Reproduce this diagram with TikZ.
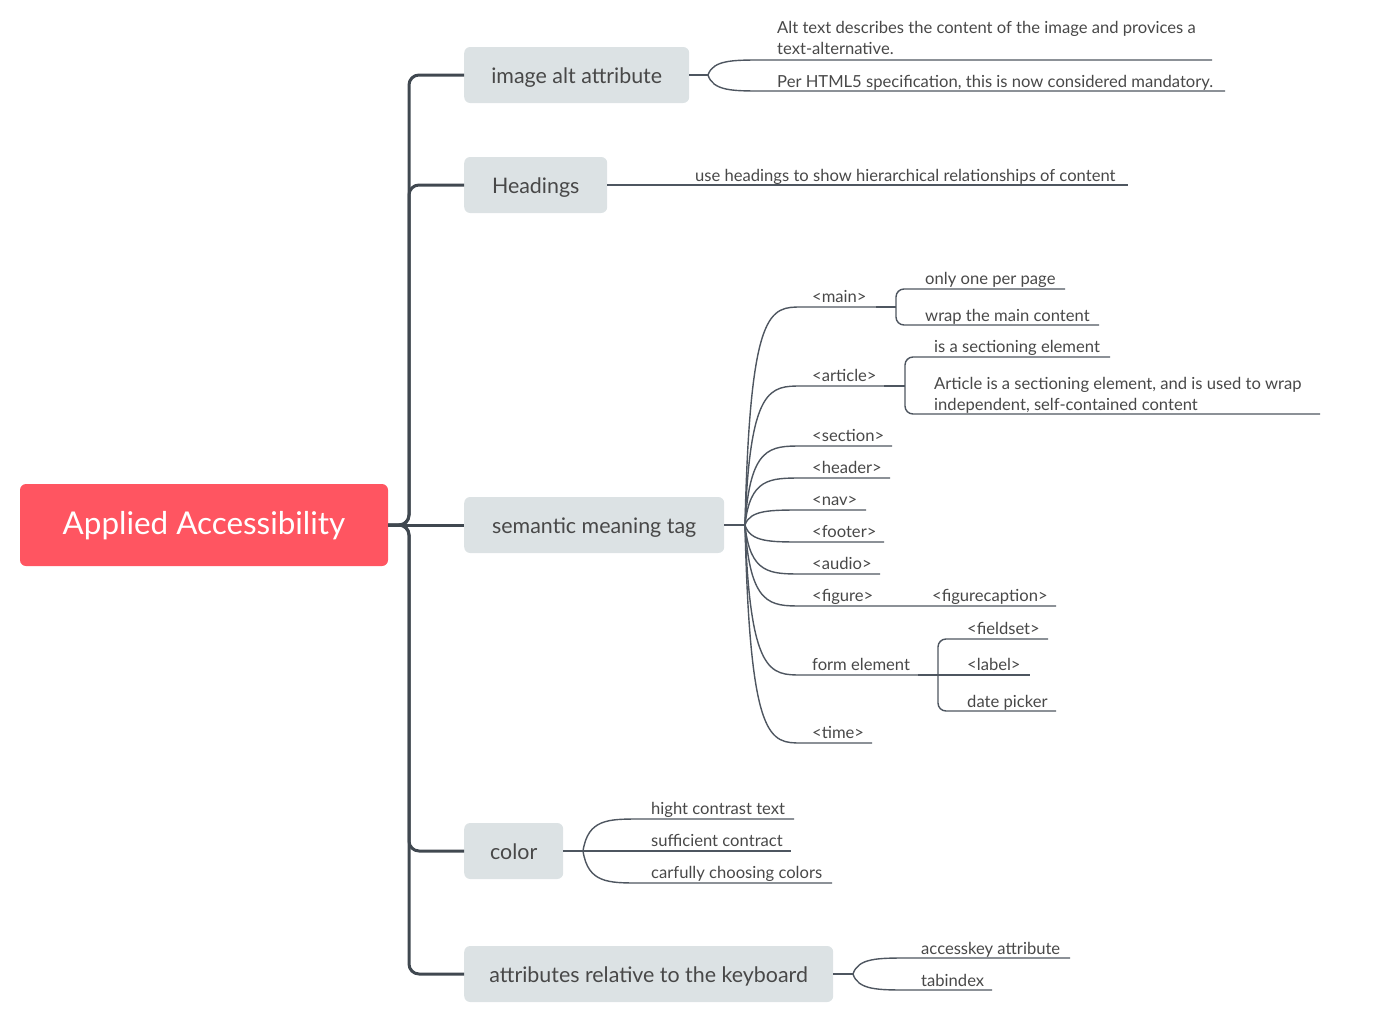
\documentclass[tikz,border=0pt]{standalone}
\usepackage{fontspec}
\setmainfont{Lato}
\definecolor{rootred}{RGB}{255,85,97}
\definecolor{topicgray}{RGB}{220,226,228}
\definecolor{linec}{RGB}{64,72,80}
\definecolor{subc}{RGB}{78,86,96}
\definecolor{txt}{RGB}{72,72,72}
\tikzset{
  rootbox/.style={fill=rootred, rounded corners=6pt, text=white, font=\fontsize{31.4}{36}\selectfont, minimum width=368, minimum height=82, inner sep=0, text height=20, text depth=1},
  topicbox/.style={fill=topicgray, rounded corners=6pt, text=txt, font=\fontsize{21.4}{24}\selectfont, minimum height=56, inner sep=0, anchor=west, text height=17, text depth=1},
  subtext/.style={text=txt, font=\fontsize{16.6}{20}\selectfont, anchor=base west, inner sep=0, yshift=-1pt},
  mainline/.style={draw=linec, line width=3pt},
  subline/.style={draw=subc, line width=1.4pt},
  hookline/.style={draw=subc, line width=2.2pt},
}
\begin{document}
\begin{tikzpicture}[x=1pt,y=-1pt]
\useasboundingbox (0,0) rectangle (1374,1028);

% root and topics
\node[rootbox] (root) at (204,525) {Applied Accessibility};
\node[topicbox, minimum width=225] (t1) at (464,75) {image alt attribute};
\node[topicbox, minimum width=143] (t2) at (464,185) {Headings};
\node[topicbox, minimum width=260] (t3) at (464,525) {semantic meaning tag};
\node[topicbox, minimum width=99] (t4) at (464,851) {color};
\node[topicbox, minimum width=369] (t5) at (464,974) {attributes relative to the keyboard};

% spine
\coordinate (sp) at (409,525);
\foreach \t in {t1,t2,t4,t5}{
  \draw[mainline, rounded corners=10pt] (root.east) -- (sp) |- (\t.west);
}
\draw[mainline] (root.east) -- (t3.west);

% ---- image alt attribute
\coordinate (f1) at (708,75);
\draw[subline] (t1.east) -- (f1);
\draw[subline] (f1) .. controls (713,60) and (733,60) .. (762,60) -- (1212,60);
\draw[subline] (f1) .. controls (713,91) and (733,91) .. (762,91) -- (1225,91);
\node[subtext] (a1) at (777,32) {Alt text describes the content of the image and provices a};
\node[subtext] (a1b) at (777,53.5) {text-alternative.};
\node[subtext] (a2) at (777,86) {Per HTML5 specification, this is now considered mandatory.};

% ---- headings
\draw[subline] (t2.east) -- (1128,185);
\node[subtext] (h1) at (695,180) {use headings to show hierarchical relationships of content};

% ---- semantic meaning tag
\coordinate (f3) at (745,525);
\draw[subline] (t3.east) -- (f3);
\foreach \ty/\xe in {307/876, 386/884, 446/892, 478/890, 510/866, 542/884, 574/880, 606/1056, 675/918, 743/872}{
  \draw[subline] (f3) .. controls (750,\ty) and (770,\ty) .. (802,\ty) -- (\xe,\ty);
}
\node[subtext] (s1) at (812,301) {<main>};
\node[subtext] (s2) at (812,380) {<article>};
\node[subtext] (s3) at (812,440) {<section>};
\node[subtext] (s4) at (812,472) {<header>};
\node[subtext] (s5) at (812,504) {<nav>};
\node[subtext] (s6) at (812,536) {<footer>};
\node[subtext] (s7) at (812,568) {<audio>};
\node[subtext] (s8) at (812,600) {<figure>};
\node[subtext] (s9) at (812,669) {form element};
\node[subtext] (s10) at (812,737) {<time>};
\node[subtext] (s8a) at (932,600) {<figurecaption>};

% <main> children
\draw[hookline] (876,307) -- (896,307);
\draw[subline, rounded corners=8pt] (1065,289) -- (896,289) -- (896,325) -- (1099,325);
\node[subtext] (m1) at (925,283) {only one per page};
\node[subtext] (m2) at (925,320) {wrap the main content};

% <article> children
\draw[hookline] (884,386) -- (905,386);
\draw[subline, rounded corners=8pt] (1110,357) -- (905,357) -- (905,414) -- (1320,414);
\node[subtext] (ar1) at (934,351) {is a sectioning element};
\node[subtext] (ar2) at (934,388) {Article is a sectioning element, and is used to wrap};
\node[subtext] (ar2b) at (934,409) {independent, self-contained content};

% form element children
\draw[hookline] (918,675) -- (938,675);
\draw[subline, rounded corners=8pt] (1048,639) -- (938,639) -- (938,711) -- (1056,711);
\draw[subline] (938,675) -- (1030,675);
\node[subtext] (fe1) at (967,633) {<fieldset>};
\node[subtext] (fe2) at (967,669) {<label>};
\node[subtext] (fe3) at (967,706) {date picker};

% ---- color
\coordinate (f4) at (583,851);
\draw[subline] (t4.east) -- (f4);
\draw[subline] (f4) .. controls (588,819) and (608,819) .. (640,819) -- (794,819);
\draw[subline] (f4) -- (791,851);
\draw[subline] (f4) .. controls (588,883) and (608,883) .. (640,883) -- (832,883);
\node[subtext] (c1) at (651,813) {hight contrast text};
\node[subtext] (c2) at (651,845) {sufficient contract};
\node[subtext] (c3) at (651,877) {carfully choosing colors};

% ---- keyboard
\coordinate (f5) at (853,974);
\draw[subline] (t5.east) -- (f5);
\draw[subline] (f5) .. controls (858,958) and (878,958) .. (908,958) -- (1070,958);
\draw[subline] (f5) .. controls (858,990) and (878,990) .. (908,990) -- (992,990);
\node[subtext] (k1) at (921,953) {accesskey attribute};
\node[subtext] (k2) at (921,985) {tabindex};
\end{tikzpicture}
\end{document}
